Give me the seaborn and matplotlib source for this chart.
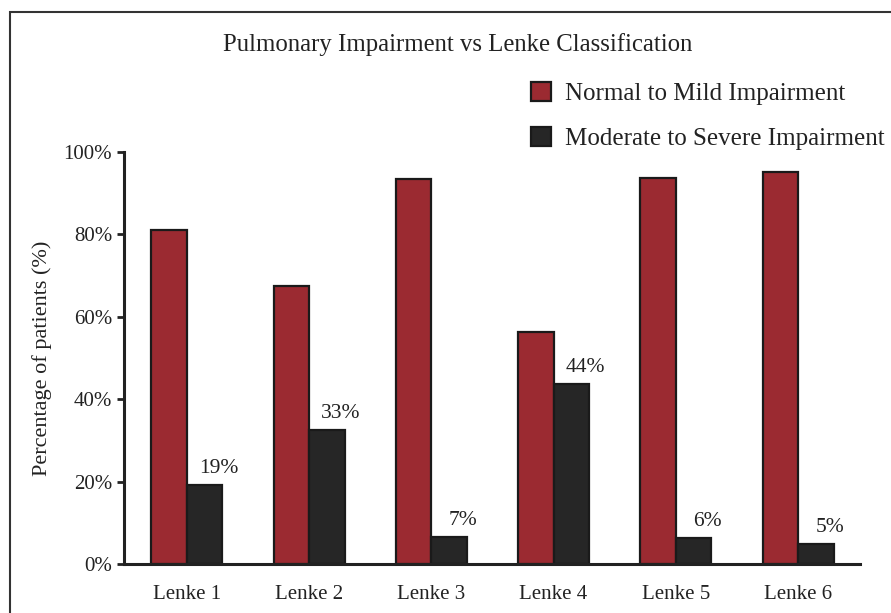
import pandas as pd
import matplotlib
matplotlib.use("Agg")
import matplotlib.pyplot as plt
import seaborn as sns
from matplotlib.patches import Rectangle

CATEGORIES = ["Lenke 1", "Lenke 2", "Lenke 3", "Lenke 4", "Lenke 5", "Lenke 6"]
SERIES = ["Normal to Mild Impairment", "Moderate to Severe Impairment"]
NORMAL_MILD = [81, 67.5, 93.4, 56.4, 93.7, 95.1]
MODERATE_SEVERE = [19.2, 32.5, 6.6, 43.6, 6.3, 4.9]
LABELS = ["19%", "33%", "7%", "44%", "6%", "5%"]
Y_TICKS = [0, 20, 40, 60, 80, 100]
COLORS = ["#9b2a31", "#262626"]


def build_frame() -> pd.DataFrame:
    rows = []
    for cat, a, b in zip(CATEGORIES, NORMAL_MILD, MODERATE_SEVERE):
        rows.append({"lenke": cat, "group": SERIES[0], "pct": a})
        rows.append({"lenke": cat, "group": SERIES[1], "pct": b})
    return pd.DataFrame(rows)


df = build_frame()

sns.set_style("ticks")
plt.rcParams["font.family"] = ["Liberation Serif", "DejaVu Serif"]

fig = plt.figure(figsize=(8.91, 6.13), dpi=100)
ax = fig.add_axes([0.139, 0.080, 0.826, 0.672])

sns.barplot(data=df, x="lenke", y="pct", hue="group", hue_order=SERIES,
            palette=COLORS, width=0.58, edgecolor="#1a1a1a", linewidth=1.6,
            saturation=1, ax=ax)

# percentage labels above the dark bars
for i, (v, lab) in enumerate(zip(MODERATE_SEVERE, LABELS)):
    ax.annotate(lab, xy=(i + 0.145, v), xytext=(10, 5), textcoords="offset points",
                ha="center", va="bottom", fontsize=15.5, color="#222222")

ax.set_xlim(-0.515, 5.505)
ax.set_ylim(0, 100)
ax.set_yticks(Y_TICKS)
ax.set_yticklabels([f"{t}%" for t in Y_TICKS], fontsize=15)
ax.tick_params(axis="y", length=5, width=2, color="#222222", labelcolor="#222222")
ax.tick_params(axis="x", length=0, pad=15, labelsize=15, labelcolor="#222222")
ax.set_xlabel("")
ax.set_ylabel("Percentage of patients (%)", fontsize=16, color="#222222", labelpad=8)
sns.despine(ax=ax)
for s in ["left", "bottom"]:
    ax.spines[s].set_linewidth(2.2)
    ax.spines[s].set_color("#222222")

fig.text(0.514, 0.927, "Pulmonary Impairment vs Lenke Classification",
         ha="center", va="center", fontsize=17.8, color="#222222")

handles, labels = ax.get_legend_handles_labels()
ax.legend(handles, labels, loc="upper left", bbox_to_anchor=(0.585, 0.883),
          bbox_transform=fig.transFigure, frameon=False, fontsize=18,
          handlelength=0.8, handleheight=0.8, labelspacing=0.88,
          handletextpad=0.55, labelcolor="#222222", borderaxespad=0)

# outer frame that runs off the right and bottom edges
fig.add_artist(Rectangle((10 / 891, -0.2), 1.5, 1.2 - 12 / 613,
                         transform=fig.transFigure, fill=False,
                         edgecolor="#333333", linewidth=1.5))

fig.savefig("out.png", dpi=100)
